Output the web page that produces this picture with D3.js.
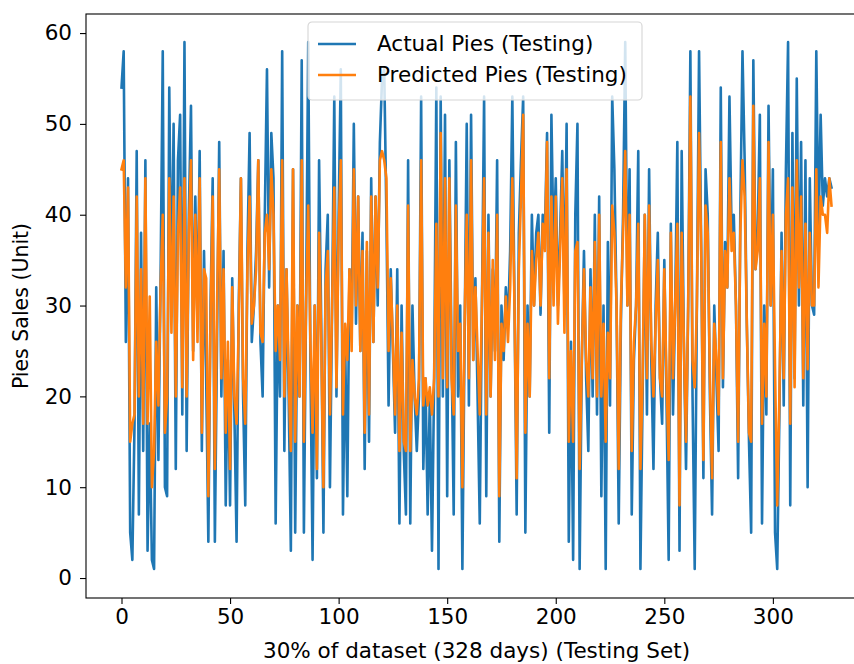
<!DOCTYPE html>
<html><head><meta charset="utf-8">
<script src="https://cdn.jsdelivr.net/npm/d3@7"></script>
<style>
body{margin:0;background:#fff}
svg{display:block}
text{font-family:"DejaVu Sans",sans-serif;fill:#000}
</style>
</head><body>
<svg id="chart" width="854" height="664"></svg>
<script>
// Daily pie sales over the testing window (328 days)
const actualPies = [
54,58,26,44,5,2,17,47,7,38,14,46,3,17,2,1,32,13,33,58,10,9,54,30,50,12,46,
51,18,59,14,40,52,25,42,28,47,14,36,22,4,30,44,4,26,48,20,36,8,24,8,33,18,4,
30,44,20,8,36,49,26,30,36,46,26,20,40,56,32,49,44,6,30,20,58,14,34,20,3,45,5,30,
20,57,5,30,59,24,2,30,11,46,28,5,34,40,10,30,53,20,40,56,7,26,9,34,27,50,28,
42,25,38,12,36,15,44,26,42,30,48,55,56,40,19,34,25,16,34,6,30,14,7,46,6,30,20,14,
20,53,12,22,7,20,3,22,54,1,53,20,51,9,46,25,7,48,20,30,1,26,50,19,51,24,33,20,
6,30,53,9,40,20,34,25,46,4,30,24,32,28,36,53,30,7,38,46,53,5,30,20,40,30,38,
40,29,40,38,49,16,51,36,44,30,38,47,30,50,4,26,2,40,50,1,24,36,22,14,34,20,40,18,
42,9,30,1,37,19,53,45,30,6,28,40,59,30,45,7,24,30,47,1,20,40,18,45,24,12,30,
38,22,17,35,20,2,39,18,30,48,3,47,26,12,30,58,20,1,30,58,36,11,45,40,20,7,30,22,
14,54,21,37,32,53,38,40,30,11,40,58,46,28,15,5,57,34,38,51,6,30,18,52,30,45,5,
1,18,38,19,45,59,8,49,22,55,30,48,19,46,10,44,30,29,58,38,51,41,44,42,44,43
];
const predictedPies = [
45,46,32,43,15,17,18,42,20,34,17,44,17,31,10,14,26,19,32,40,16,20,44,27,42,20,38,
43,21,44,20,38,46,24,40,26,44,16,34,33,9,28,42,12,30,45,22,34,16,26,12,32,20,17,
28,44,22,17,34,42,28,30,34,46,27,26,38,40,34,45,40,25,30,24,46,20,34,22,14,45,15,30,
20,46,15,30,41,26,16,30,12,38,26,10,32,36,18,30,43,21,38,46,18,28,24,34,25,45,30,
42,25,36,16,37,18,42,26,42,32,46,47,46,44,25,33,26,18,30,14,27,15,14,41,14,24,20,18,
22,46,19,22,19,21,18,22,39,20,49,22,44,21,44,22,18,41,25,28,10,28,40,22,46,24,32,25,
18,30,44,18,38,20,35,24,40,9,28,25,31,26,32,44,30,11,34,42,51,16,28,20,36,30,35,
38,30,39,36,48,22,42,30,42,28,36,44,27,45,15,25,15,36,37,12,24,34,24,20,32,22,37,20,
40,20,28,15,27,22,41,38,30,12,30,38,47,30,40,14,26,30,39,12,22,40,22,41,26,20,28,
35,22,20,34,22,13,38,22,30,39,8,38,26,15,30,53,24,21,30,49,36,13,41,38,22,11,28,24,
18,48,22,36,32,44,36,38,30,15,38,46,42,28,16,15,52,34,36,44,17,28,20,48,30,40,23,
8,20,36,22,40,44,17,43,21,46,32,42,22,39,23,38,30,30,45,32,42,40,40,38,44,41
];
const xTicks = [0, 50, 100, 150, 200, 250, 300];
const yTicks = [0, 10, 20, 30, 40, 50, 60];
const seriesNames = ["Actual Pies (Testing)", "Predicted Pies (Testing)"];
const seriesColors = ["#1f77b4", "#ff7f0e"];
const xLabel = "30% of dataset (328 days) (Testing Set)";
const yLabel = "Pies Sales (Unit)";

const svg = d3.select("#chart");
const plot = {left: 86, right: 867, top: 14, bottom: 598};
const fontSize = 21.5;     // horizontal text
const fontSizeV = 20.5;    // rotated y title

const n = actualPies.length;
const padX = (n - 1) * 0.05;
const x = d3.scaleLinear().domain([-padX, n - 1 + padX]).range([plot.left, plot.right]);
const y = d3.scaleLinear().domain([-2.2, 62.1]).range([plot.bottom, plot.top]);

svg.append("defs").append("clipPath").attr("id", "plotClip")
  .append("rect").attr("x", plot.left).attr("y", plot.top)
  .attr("width", plot.right - plot.left).attr("height", plot.bottom - plot.top);

// series lines
const line = d3.line().x((d, i) => x(i)).y(d => y(d));
const g = svg.append("g").attr("clip-path", "url(#plotClip)");
[actualPies, predictedPies].forEach((s, k) => {
  g.append("path").datum(s).attr("d", line)
    .attr("fill", "none").attr("stroke", seriesColors[k])
    .attr("stroke-width", 2.6).attr("stroke-linejoin", "round").attr("stroke-linecap", "square");
});

// axes
const xAxis = d3.axisBottom(x).tickValues(xTicks).tickSize(6).tickPadding(5);
const yAxis = d3.axisLeft(y).tickValues(yTicks).tickSize(6).tickPadding(8);
const gx = svg.append("g").attr("transform", `translate(0,${plot.bottom})`).call(xAxis);
const gy = svg.append("g").attr("transform", `translate(${plot.left},0)`).call(yAxis);
[gx, gy].forEach(a => {
  a.select(".domain").remove();
  a.selectAll(".tick line").attr("stroke", "#000").attr("stroke-width", 1.1);
  a.selectAll(".tick text").attr("font-size", fontSize).attr("font-family", "DejaVu Sans").attr("fill", "#000");
});

// frame
svg.append("rect").attr("x", plot.left).attr("y", plot.top)
  .attr("width", plot.right - plot.left).attr("height", plot.bottom - plot.top)
  .attr("fill", "none").attr("stroke", "#000").attr("stroke-width", 1.1);

// axis titles
svg.append("text").attr("x", (plot.left + plot.right) / 2).attr("y", 658)
  .attr("text-anchor", "middle").attr("font-size", fontSize).text(xLabel);
svg.append("text").attr("transform", `translate(28,${(plot.top + plot.bottom) / 2}) rotate(-90)`)
  .attr("text-anchor", "middle").attr("font-size", fontSizeV).text(yLabel);

// legend
const lg = svg.append("g").attr("transform", "translate(308,22)");
lg.append("rect").attr("width", 334).attr("height", 78).attr("rx", 4)
  .attr("fill", "#fff").attr("fill-opacity", 0.8).attr("stroke", "#d5d5d5").attr("stroke-width", 1.1);
seriesNames.forEach((name, k) => {
  const yy = 22 + k * 31;
  lg.append("line").attr("x1", 10).attr("x2", 48).attr("y1", yy).attr("y2", yy)
    .attr("stroke", seriesColors[k]).attr("stroke-width", 2.6);
  lg.append("text").attr("x", 69).attr("y", yy + 7).attr("font-size", fontSize).text(name);
});
</script>
</body></html>
